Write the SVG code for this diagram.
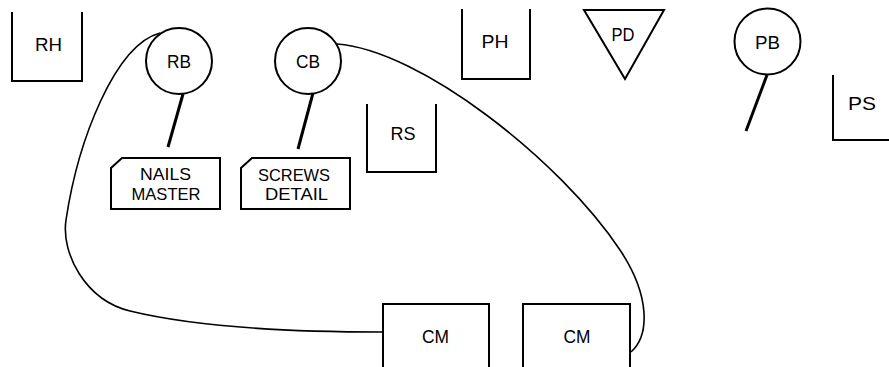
<svg xmlns="http://www.w3.org/2000/svg" width="889" height="367" viewBox="0 0 889 367">
<style>
.s{fill:none;stroke:#000;stroke-width:2;stroke-linejoin:miter}
.c{fill:none;stroke:#000;stroke-width:1.6}
.st{fill:none;stroke:#000;stroke-width:3;stroke-linecap:butt}
.t{font-family:"Liberation Sans",Arial,sans-serif;font-size:19px;fill:#000;text-anchor:middle}
.b{font-size:17px}
</style>
<rect width="889" height="367" fill="#fff"/>
<g id="RH"><path class="s" d="M12,12 V81 H82 V12"/><text class="t" x="48.5" y="51" textLength="27" lengthAdjust="spacingAndGlyphs">RH</text></g>
<g id="RB"><circle class="s" cx="179" cy="61" r="33"/><text class="t" x="179" y="68" textLength="24" lengthAdjust="spacingAndGlyphs">RB</text></g>
<g id="CB"><circle class="s" cx="308" cy="61" r="33"/><text class="t" x="308" y="68" textLength="24" lengthAdjust="spacingAndGlyphs">CB</text></g>
<g id="NAILS_MASTER"><path class="s" d="M122,158 H220 V209 H111 V168 Z"/><text class="t b" x="165.5" y="180" textLength="51" lengthAdjust="spacingAndGlyphs">NAILS</text><text class="t b" x="166" y="199.5" textLength="69" lengthAdjust="spacingAndGlyphs">MASTER</text></g>
<g id="SCREWS_DETAIL"><path class="s" d="M252,158 H350 V209 H241 V168 Z"/><text class="t b" x="294" y="180.5" textLength="72" lengthAdjust="spacingAndGlyphs">SCREWS</text><text class="t b" x="296.5" y="200" textLength="63" lengthAdjust="spacingAndGlyphs">DETAIL</text></g>
<g id="RS"><path class="s" d="M367,104 V172 H436 V104"/><text class="t" x="403" y="140" textLength="25" lengthAdjust="spacingAndGlyphs">RS</text></g>
<g id="PH"><path class="s" d="M462,9 V79 H530 V9"/><text class="t" x="495" y="48" textLength="27" lengthAdjust="spacingAndGlyphs">PH</text></g>
<g id="PD"><path class="s" d="M584,10 H664 L625,79 Z"/><text class="t" x="623" y="41" textLength="23" lengthAdjust="spacingAndGlyphs">PD</text></g>
<g id="PB"><circle class="s" cx="767.5" cy="41.5" r="33"/><text class="t" x="767.5" y="49" textLength="25" lengthAdjust="spacingAndGlyphs">PB</text></g>
<g id="PS"><path class="s" d="M833,75 V140 H889"/><text class="t" x="862" y="110" textLength="28" lengthAdjust="spacingAndGlyphs">PS</text></g>
<g id="CM1"><path class="s" d="M383,368 V304 H489 V368"/><text class="t" x="435.5" y="343" textLength="27" lengthAdjust="spacingAndGlyphs">CM</text></g>
<g id="CM2"><path class="s" d="M523,368 V304 H630 V368"/><text class="t" x="577" y="343" textLength="27" lengthAdjust="spacingAndGlyphs">CM</text></g>
<g id="connectors">
<line class="st" x1="183" y1="94" x2="168" y2="147"/>
<line class="st" x1="313" y1="93" x2="298" y2="149"/>
<line class="st" x1="767" y1="75" x2="746" y2="131"/>
<path class="c" d="M160,33 C115,45 78,140 66,220 C61,253 85,300 130,311 C200,328 300,332 382,332"/>
<path class="c" d="M337,44 C420,50 560,160 620,250 C650,295 650,335 631,352"/>
</g>
</svg>
